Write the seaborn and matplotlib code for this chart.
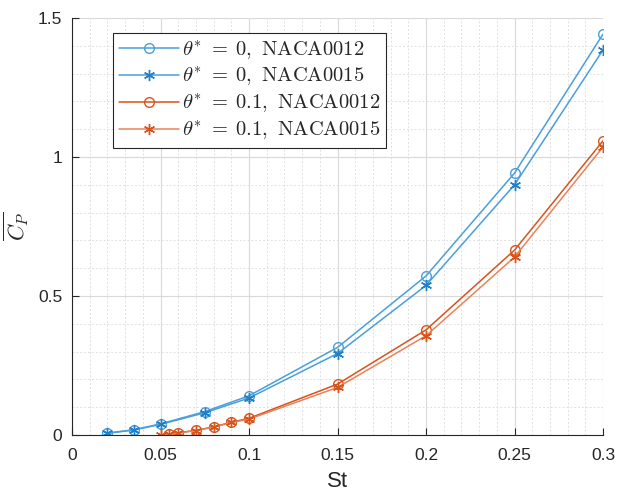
import matplotlib
matplotlib.use("Agg")
import matplotlib.pyplot as plt
import seaborn as sns
import numpy as np

# Data
st_t0 = [0.02, 0.035, 0.05, 0.075, 0.1, 0.15, 0.2, 0.25, 0.3]
cp_t0_0012 = [0.007, 0.019, 0.040, 0.084, 0.141, 0.315, 0.572, 0.942, 1.442]
cp_t0_0015 = [0.006, 0.018, 0.038, 0.080, 0.133, 0.293, 0.538, 0.900, 1.385]

st_t01_0012 = [0.055, 0.06, 0.07, 0.08, 0.09, 0.1, 0.15, 0.2, 0.25, 0.3]
cp_t01_0012 = [0.003, 0.008, 0.017, 0.029, 0.046, 0.060, 0.183, 0.378, 0.665, 1.058]
st_t01_0015 = [0.05, 0.055, 0.06, 0.07, 0.08, 0.09, 0.1, 0.15, 0.2, 0.25, 0.3]
cp_t01_0015 = [0.0, 0.003, 0.007, 0.016, 0.028, 0.045, 0.057, 0.171, 0.357, 0.640, 1.036]

labels = [r"$\theta^{*}\;=\;0,\ \mathrm{NACA0012}$",
          r"$\theta^{*}\;=\;0,\ \mathrm{NACA0015}$",
          r"$\theta^{*}\;=\;0.1,\ \mathrm{NACA0012}$",
          r"$\theta^{*}\;=\;0.1,\ \mathrm{NACA0015}$"]

xticks = [0, 0.05, 0.1, 0.15, 0.2, 0.25, 0.3]
xticklabels = ["0", "0.05", "0.1", "0.15", "0.2", "0.25", "0.3"]
yticks = [0, 0.5, 1, 1.5]
yticklabels = ["0", "0.5", "1", "1.5"]

sns.set_theme(style="white")
plt.rcParams["font.family"] = ["Liberation Sans", "DejaVu Sans"]
plt.rcParams["mathtext.fontset"] = "cm"

fig = plt.figure(figsize=(6.17, 4.91), dpi=100)
ax = fig.add_axes([72/617, 1-435/491, (603-72)/617, (435-18)/491])

blue_l = "#4a9fdb"
blue_d = "#1f7fc4"
red_d = "#D95319"
red_l = "#e8825a"

asterisk = (6, 2, 0)
sns.lineplot(x=st_t0, y=cp_t0_0012, ax=ax, color=blue_l, lw=1.1, marker="o",
             markersize=7, markerfacecolor="none", markeredgecolor=blue_l,
             markeredgewidth=1.0, label=labels[0])
sns.lineplot(x=st_t0, y=cp_t0_0015, ax=ax, color=blue_l, lw=1.1, marker=asterisk,
             markersize=8, markeredgecolor=blue_d, markerfacecolor=blue_d,
             markeredgewidth=1.0, label=labels[1])
sns.lineplot(x=st_t01_0012, y=cp_t01_0012, ax=ax, color=red_d, lw=1.1, marker="o",
             markersize=7, markerfacecolor="none", markeredgecolor=red_d,
             markeredgewidth=1.0, label=labels[2])
sns.lineplot(x=st_t01_0015, y=cp_t01_0015, ax=ax, color=red_l, lw=1.1, marker=asterisk,
             markersize=8, markeredgecolor=red_d, markerfacecolor=red_d,
             markeredgewidth=1.0, label=labels[3])

ax.set_xlim(0, 0.3)
ax.set_ylim(0, 1.5)
ax.set_xticks(xticks)
ax.set_xticklabels(xticklabels)
ax.set_yticks(yticks)
ax.set_yticklabels(yticklabels)
ax.set_xticks(np.arange(0, 0.301, 0.01), minor=True)
ax.set_yticks(np.arange(0, 1.501, 0.1), minor=True)

ax.grid(True, which="major", color="#d9d9d9", lw=0.8, ls="-")
ax.grid(True, which="minor", color="#e0e0e0", lw=0.7, ls=(0, (2, 2)))
ax.set_axisbelow(True)

for s in ["top", "right"]:
    ax.spines[s].set_visible(False)
for s in ["left", "bottom"]:
    ax.spines[s].set_color("#262626")
    ax.spines[s].set_linewidth(0.8)

ax.tick_params(axis="both", which="major", direction="in", length=5, width=0.8,
               colors="#262626", labelsize=12.5, bottom=True, left=True)
ax.tick_params(axis="x", which="major", pad=9)
ax.tick_params(axis="y", which="major", pad=7)
ax.tick_params(axis="both", which="minor", length=0)

ax.set_xlabel("St", fontsize=16, color="#262626", labelpad=6)
ax.set_ylabel(r"$\overline{C_P}$", fontsize=16, color="#262626", labelpad=5)

leg = ax.legend(loc="upper left", bbox_to_anchor=(0.077, 0.965), borderaxespad=0,
                fontsize=14.8, frameon=True, fancybox=False, framealpha=1,
                edgecolor="#262626", handlelength=2.9, handletextpad=0.15,
                labelspacing=0.2, borderpad=0.3)
leg.get_frame().set_linewidth(0.8)

fig.savefig("out.png", dpi=100)
